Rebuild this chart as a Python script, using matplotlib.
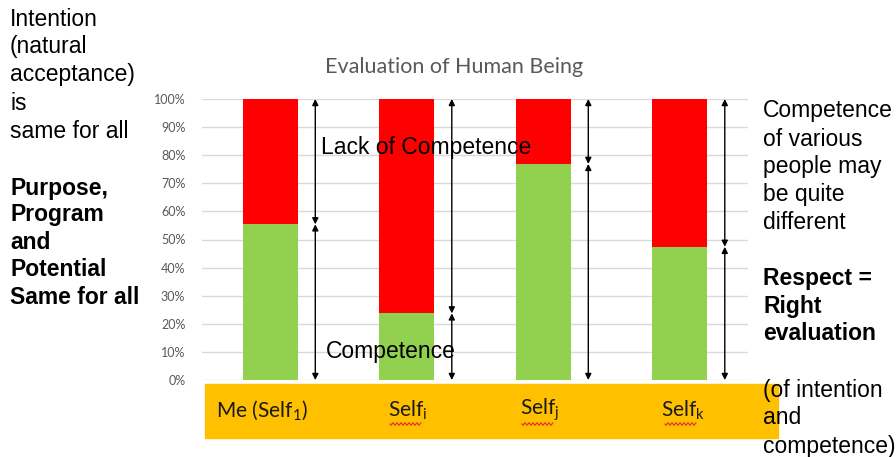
import matplotlib
matplotlib.use("Agg")
import matplotlib.pyplot as plt
from matplotlib.patches import Rectangle
import numpy as np

# ---- data ----
categories = ["Me (Self$_1$)", "Self$_i$", "Self$_j$", "Self$_k$"]
competence = [55.4, 23.7, 76.9, 47.4]
lack = [100 - c for c in competence]
yticks = [0, 10, 20, 30, 40, 50, 60, 70, 80, 90, 100]
title = "Evaluation of Human Being"
left_plain = ["Intention", "(natural", "acceptance)", "is", "same for all"]
left_bold = ["Purpose,", "Program", "and", "Potential", "Same for all"]
right_plain = ["Competence", "of various", "people may", "be quite", "different"]
right_bold = ["Respect =", "Right", "evaluation"]
right_paren = ["(of intention", "and", "competence)"]

W, H = 896, 457
plt.rcParams['mathtext.fontset'] = 'custom'
plt.rcParams['mathtext.rm'] = 'Lato'
plt.rcParams['mathtext.it'] = 'Lato'

fig = plt.figure(figsize=(W / 100, H / 100), dpi=100)
fig.patch.set_facecolor("white")

def fx(x):
    return x / W

def fy(y):
    return 1 - y / H

ax = fig.add_axes([fx(202), fy(380), (748 - 202) / W, (380 - 99) / H])
x = np.arange(len(categories))
ax.bar(x, competence, width=0.4, color="#92D050", zorder=2)
ax.bar(x, lack, bottom=competence, width=0.4, color="#FF0000", zorder=2)
ax.set_xlim(-0.5, len(categories) - 0.5)
ax.set_ylim(0, 100)
ax.set_yticks(yticks)
ax.set_yticklabels([f"{t}%" for t in yticks], fontsize=9, color="#595959",
                   fontfamily="Lato")
ax.set_xticks([])
ax.grid(axis="y", color="#D9D9D9", lw=1, zorder=0)
for s in ax.spines.values():
    s.set_visible(False)
ax.tick_params(axis="y", length=0, pad=12)

# arrows
off = 0.33
for xi, c in zip(x, competence):
    for (a, b) in [(100, c), (c, 0)]:
        ax.annotate("", xy=(xi + off, b), xytext=(xi + off, a),
                    arrowprops=dict(arrowstyle="<|-|>", color="black", lw=1,
                                    mutation_scale=9, shrinkA=0, shrinkB=0),
                    annotation_clip=False)

ax.text(0 + off + 0.04, 82.9, "Lack of Competence", fontsize=16.5,
        fontfamily="Liberation Sans", va="center", ha="left", zorder=5)
ax.text(0 + off + 0.08, 10.3, "Competence", fontsize=16.5,
        fontfamily="Liberation Sans", va="center", ha="left", zorder=5)

fig.text(fx(454), fy(67), title, fontsize=15.5, color="#595959",
         fontfamily="Lato", ha="center", va="center")

# orange category box
fig.add_artist(Rectangle((fx(205), fy(438)), (778 - 205) / W, (438 - 384) / H,
                         transform=fig.transFigure, color="#FFC000", zorder=0))
label_x = [262, 408, 540, 683]
for i, (lx, lab) in enumerate(zip(label_x, categories)):
    fig.text(fx(lx), fy(410), lab, fontsize=15, fontfamily="Lato",
             ha="center", va="center", color="#1a1a1a")
    if i > 0:
        # red wavy spell-check underline
        xs = np.linspace(lx - 18, lx + 13, 80)
        ys = 424 + 1.2 * np.sin((xs - xs[0]) * 2 * np.pi / 4)
        fig.add_artist(plt.Line2D(fx(xs), fy(ys), transform=fig.transFigure,
                                  color="#E03030", lw=0.8))

# side texts
def lines(xpix, ys, txts, bold=False):
    for yy, t in zip(ys, txts):
        fig.text(fx(xpix), fy(yy), t, fontsize=16.5, fontfamily="Liberation Sans",
                 fontweight="bold" if bold else "normal", ha="left", va="center")

lines(10, [20, 47, 75, 103, 131], left_plain)
lines(10, [188, 215, 243, 270, 298], left_bold, bold=True)
lines(763, [111, 139, 167, 195, 223], right_plain)
lines(763, [278, 306, 334], right_bold, bold=True)
lines(763, [390, 418, 446], right_paren)

fig.savefig("out.png", dpi=100)
